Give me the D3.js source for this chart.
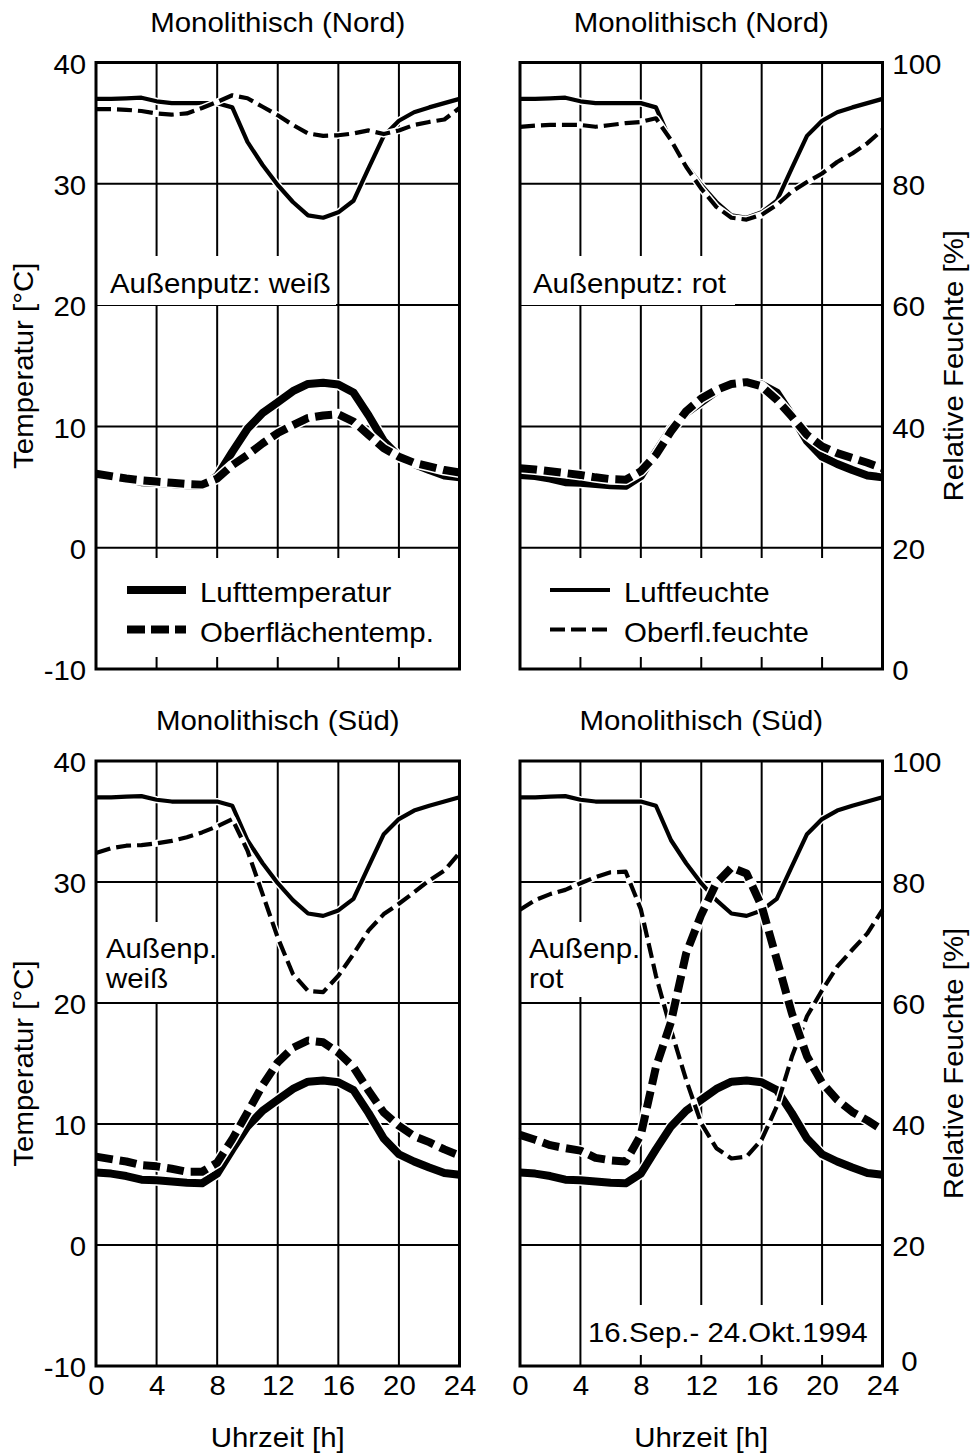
<!DOCTYPE html>
<html><head><meta charset="utf-8">
<script src="https://cdn.jsdelivr.net/npm/d3@7"></script>
<style>html,body{margin:0;padding:0;background:#fff;} svg{display:block;}</style>
</head><body>
<svg id="chart" width="973" height="1456"></svg>
<script>
// ---------------- DATA ----------------
const hours = [0,1,2,3,4,5,6,7,8,9,10,11,12,13,14,15,16,17,18,19,20,21,22,23,24];
// Air (shared for all panels)
const airTemp = [6.0,5.9,5.7,5.4,5.35,5.25,5.15,5.1,5.9,7.9,9.8,11.1,12.0,12.9,13.5,13.6,13.45,12.8,10.9,8.8,7.5,6.9,6.4,5.95,5.8];
const airHum  = [94.0,94.0,94.1,94.2,93.6,93.3,93.3,93.3,93.3,92.6,86.9,83.1,79.8,77.0,74.8,74.4,75.3,77.2,82.6,87.9,90.4,91.8,92.6,93.3,94.0];
// Nord, weiß
const surfTempNW = [6.1,5.9,5.7,5.55,5.45,5.35,5.25,5.2,5.7,6.8,7.65,8.6,9.45,10.1,10.7,10.9,11.0,10.4,9.3,8.2,7.5,7.0,6.7,6.4,6.2];
const surfHumNW  = [92.3,92.3,92.2,92.0,91.6,91.4,91.6,92.5,93.5,94.6,94.1,92.7,91.3,89.7,88.3,87.9,88.0,88.3,88.8,88.2,88.8,89.7,90.2,90.6,92.5];
// Nord, rot
const surfTempNR = [6.55,6.45,6.3,6.15,6.0,5.8,5.65,5.6,6.3,7.65,9.6,11.25,12.3,13.0,13.5,13.65,13.3,12.2,10.8,9.3,8.35,7.8,7.4,7.0,6.55];
const surfHumNR  = [89.4,89.6,89.7,89.7,89.7,89.4,89.7,90.0,90.2,90.8,87.2,82.8,79.2,76.2,74.4,74.1,74.9,76.5,78.7,80.3,81.7,83.6,85.0,86.7,88.9];
// Süd, weiß
const surfTempSW = [7.3,7.1,6.9,6.6,6.5,6.3,6.05,6.05,6.8,8.75,10.95,13.2,15.1,16.3,16.9,16.75,15.9,14.7,12.75,10.95,9.85,9.0,8.5,7.9,7.4];
const surfHumSW  = [84.8,85.6,86.0,86.1,86.4,86.8,87.4,88.2,89.2,90.4,85.2,78.0,70.8,64.8,62.0,61.8,64.5,68.1,72.0,74.7,76.4,78.3,80.25,81.9,84.8];
// Süd, rot
const surfTempSR = [9.1,8.7,8.25,8.0,7.8,7.2,7.0,6.9,9.1,14.7,18.45,24.1,27.3,29.9,31.2,30.7,28.0,23.6,19.15,15.6,13.4,12.0,11.0,10.3,9.5];
const surfHumSR  = [75.4,77.0,78.0,78.7,79.8,80.8,81.6,81.7,75.5,64.5,55.5,47.3,40.1,36.0,34.3,34.6,37.4,42.9,51.1,57.8,62.1,66.0,68.8,71.5,75.4];

const xTicks = [0,4,8,12,16,20,24];
const tempTicks = [-10,0,10,20,30,40];
const humTicks = [0,20,40,60,80,100];

const titles = ["Monolithisch (Nord)","Monolithisch (Nord)","Monolithisch (Süd)","Monolithisch (Süd)"];
const yTitleLeft = "Temperatur [°C]";
const yTitleRight = "Relative Feuchte [%]";
const xTitle = "Uhrzeit [h]";
const legendTemp = ["Lufttemperatur","Oberflächentemp."];
const legendHum = ["Luftfeuchte","Oberfl.feuchte"];

// ---------------- LAYOUT ----------------
const FS = 27, SX = 1.09;
const FONT = "'Liberation Sans', Arial, Helvetica, sans-serif";
const svg = d3.select("#chart");
svg.append("rect").attr("width",973).attr("height",1456).attr("fill","#fff");

const cols = [{x0:96,x1:459.5},{x0:520,x1:882.5}];
const rows = [{y0:62.5,y1:669},{y0:761,y1:1366}];

const panels = [
  {c:0,r:0,title:titles[0],sT:surfTempNW,sH:surfHumNW,
   boxes:[[96,256,240,49],[96,558,363.5,99]],
   notes:[["Außenputz: weiß",110,293]], legend:{items:legendTemp,lx0:127,lx1:186,tx:200}},
  {c:1,r:0,title:titles[1],sT:surfTempNR,sH:surfHumNR,
   boxes:[[520,256,215,49],[520,558,362.5,99]],
   notes:[["Außenputz: rot",533,293]], legend:{items:legendHum,lx0:550,lx1:610,tx:624}},
  {c:0,r:1,title:titles[2],sT:surfTempSW,sH:surfHumSW,
   boxes:[[96,922,120,80]],
   notes:[["Außenp.",106,958],["weiß",106,988]]},
  {c:1,r:1,title:titles[3],sT:surfTempSR,sH:surfHumSR,
   boxes:[[520,922,118,75],[584,1305,298.5,50]],
   notes:[["Außenp.",529,958],["rot",529,988],["16.Sep.- 24.Okt.1994",588,1342]]}
];

const THIN = 4.2, THICK = 8, CASE = 3;
const dashThin = "15,6", dashThick = "17,7";
const fmt = d => String(d);

function txt(g, s, x, y, anchor, rot){
  return g.append("text")
    .attr("transform", `translate(${x},${y})` + (rot?` rotate(${rot})`:"") + ` scale(${SX},1)`)
    .attr("text-anchor", anchor || "start")
    .attr("font-family", FONT).attr("font-size", FS).attr("fill","#000")
    .text(s);
}

panels.forEach(p => {
  const {x0,x1} = cols[p.c], {y0,y1} = rows[p.r];
  const x = d3.scaleLinear().domain([0,24]).range([x0,x1]);
  const yT = d3.scaleLinear().domain([-10,40]).range([y1,y0]);
  const yH = d3.scaleLinear().domain([0,100]).range([y1,y0]);
  const g = svg.append("g");

  // grid
  g.selectAll(".vg").data(xTicks.slice(1,-1)).enter().append("line")
    .attr("x1",d=>x(d)).attr("x2",d=>x(d)).attr("y1",y0).attr("y2",y1)
    .attr("stroke","#000").attr("stroke-width",2);
  g.selectAll(".hg").data(tempTicks.slice(1,-1)).enter().append("line")
    .attr("x1",x0).attr("x2",x1).attr("y1",d=>yT(d)).attr("y2",d=>yT(d))
    .attr("stroke","#000").attr("stroke-width",2);

  // white boxes behind annotations
  p.boxes.forEach(b => g.append("rect").attr("x",b[0]).attr("y",b[1]).attr("width",b[2]).attr("height",b[3]).attr("fill","#fff"));

  // series
  const series = [
    {vals:airHum, y:yH, w:THIN, dash:null},
    {vals:airTemp, y:yT, w:THICK, dash:null},
    {vals:p.sH, y:yH, w:THIN, dash:dashThin},
    {vals:p.sT, y:yT, w:THICK, dash:dashThick}
  ];
  series.forEach(s => {
    const line = d3.line().x((d,i)=>x(hours[i])).y(d=>s.y(d)).curve(d3.curveLinear);
    g.append("path").attr("d",line(s.vals)).attr("fill","none")
      .attr("stroke","#fff").attr("stroke-width",s.w+CASE).attr("stroke-linejoin","round");
    g.append("path").attr("d",line(s.vals)).attr("fill","none")
      .attr("stroke","#000").attr("stroke-width",s.w).attr("stroke-linejoin","round")
      .attr("stroke-dasharray",s.dash);
  });

  // frame
  g.append("rect").attr("x",x0).attr("y",y0).attr("width",x1-x0).attr("height",y1-y0)
    .attr("fill","none").attr("stroke","#000").attr("stroke-width",3);

  // notes
  p.notes.forEach(n => txt(g, n[0], n[1], n[2], "start"));

  // legend
  if (p.legend) {
    const L = p.legend;
    const ly = [590, 629.5];
    g.append("line").attr("x1",L.lx0).attr("x2",L.lx1).attr("y1",ly[0]).attr("y2",ly[0])
      .attr("stroke","#000").attr("stroke-width", p.c===0?THICK:THIN);
    g.append("line").attr("x1",L.lx0).attr("x2",L.lx1).attr("y1",ly[1]).attr("y2",ly[1])
      .attr("stroke","#000").attr("stroke-width", p.c===0?THICK:THIN)
      .attr("stroke-dasharray", p.c===0?"18,6":"15,6");
    txt(g, L.items[0], L.tx, ly[0]+11.5, "start");
    txt(g, L.items[1], L.tx, ly[1]+12, "start");
  }

  // title
  txt(g, p.title, (x0+x1)/2, p.r===0?32:730, "middle");

  // axes
  if (p.c===0) {
    const ax = g.append("g").attr("transform",`translate(${x0},0)`)
      .call(d3.axisLeft(yT).tickValues(tempTicks).tickSize(0).tickPadding(9).tickFormat(fmt));
    ax.select(".domain").remove();
    ax.selectAll("text").attr("font-family",FONT).attr("font-size",FS).attr("fill","#000")
      .attr("dy","0.4em").attr("transform",`scale(${SX},1)`);
    txt(g, yTitleLeft, 33, (y0+y1)/2, "middle", -90);
  } else {
    const ax = g.append("g").attr("transform",`translate(${x1},0)`)
      .call(d3.axisRight(yH).tickValues(humTicks).tickSize(0).tickPadding(9).tickFormat(fmt));
    ax.select(".domain").remove();
    ax.selectAll("text").attr("font-family",FONT).attr("font-size",FS).attr("fill","#000")
      .attr("dy", d => d===0 && p.r===1 ? "0.15em" : "0.4em")
      .attr("dx", d => d===0 && p.r===1 ? "0.3em" : "0")
      .attr("transform",`scale(${SX},1)`);
    txt(g, yTitleRight, 963, (y0+y1)/2, "middle", -90);
  }
  if (p.r===1) {
    const ax = g.append("g").attr("transform",`translate(0,${y1})`)
      .call(d3.axisBottom(x).tickValues(xTicks).tickSize(0).tickPadding(10).tickFormat(fmt));
    ax.select(".domain").remove();
    ax.selectAll(".tick text").attr("font-family",FONT).attr("font-size",FS).attr("fill","#000")
      .attr("transform",`scale(${SX},1)`);
    txt(g, xTitle, (x0+x1)/2, 1447, "middle");
  }
});
</script>
</body></html>
